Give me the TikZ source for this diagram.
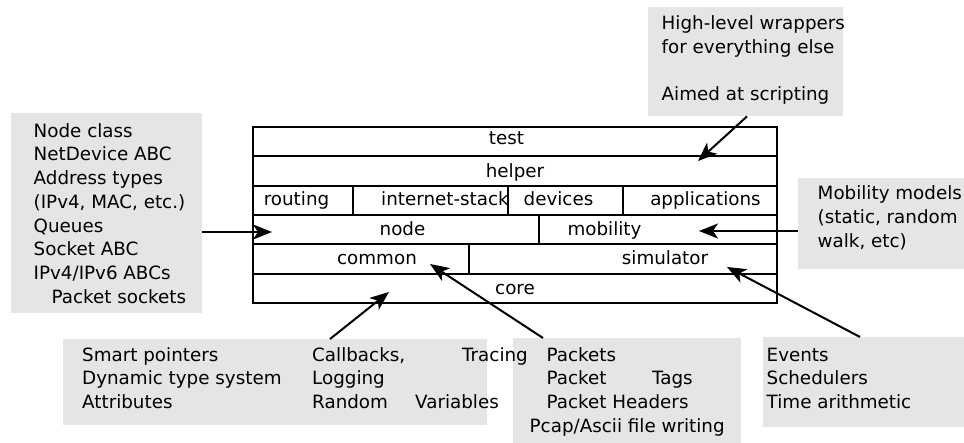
\documentclass[tikz,border=0pt]{standalone}
\usepackage{fontspec}
\setmainfont{DejaVu Sans}
\usetikzlibrary{arrows.meta}
\definecolor{notegray}{HTML}{E5E5E5}

\begin{document}
\begin{tikzpicture}[x=1pt, y=-1pt,
    font=\fontsize{18.3}{23.75}\selectfont,
    layer/.style={draw, line width=2pt, anchor=north west, inner sep=0pt, minimum height=29.33pt},
    tag/.style={anchor=base, inner sep=0pt},
    note/.style={fill=notegray, anchor=north west, inner sep=0pt},
    notetext/.style={anchor=north west, inner sep=0pt, align=left},
    arr/.style={-{Stealth[length=19pt, width=15pt, inset=5pt]}, line width=2pt}]
    \useasboundingbox (0,0) rectangle (964,443);

    % Grey notes
    \node[note, minimum width=191pt, minimum height=200pt] (nodenote) at (11,113) {};
    \node[note, minimum width=195pt, minimum height=109pt] (helpernote) at (648,7) {};
    \node[note, minimum width=166pt, minimum height=91pt] (mobilitynote) at (798,178) {};
    \node[note, minimum width=424pt, minimum height=86pt] (corenote) at (63,339) {};
    \node[note, minimum width=228pt, minimum height=105pt] (commonnote) at (513,338) {};
    \node[note, minimum width=201pt, minimum height=90pt] (simnote) at (763,337) {};

    % Note texts
    \node[notetext] (nodetext) at (33.5,120.4) {\strut Node class\\NetDevice ABC\\Address types\\(IPv4, MAC, etc.)\\Queues\\Socket ABC\\IPv4/IPv6 ABCs\\\hspace*{18pt}Packet sockets};
    \node[notetext] (helpertext) at (661.5,12.7) {\strut High-level wrappers\\for everything else\\[23.75pt]Aimed at scripting};
    \node[notetext] (mobilitytext) at (817.5,182.7) {\strut Mobility models\\(static, random\\walk, etc)};
    \node[notetext] (coretext) at (82,344.4) {\strut Smart pointers\\Dynamic type system\\Attributes};
    \node[notetext] (coretextb) at (312,344.4) {\strut\makebox[150pt][l]{Callbacks,}Tracing\\Logging\\\makebox[103pt][l]{Random}Variables};
    \node[notetext] (commontext) at (529.5,344.4) {\strut\hspace*{17pt}Packets\\\hspace*{17pt}\makebox[105.5pt][l]{Packet}Tags\\\hspace*{17pt}Packet Headers\\Pcap/Ascii file writing};
    \node[notetext] (simtext) at (766.5,344.4) {\strut Events\\Schedulers\\Time arithmetic};

    % Layer stack
    \node[layer, minimum width=524pt] (testlayer) at (252,126) {};
    \node[layer, minimum width=524pt] (helperlayer) at (252,155.33) {};
    \node[layer, minimum width=100pt] (routinglayer) at (252,184.67) {};
    \node[layer, minimum width=155pt] (internetlayer) at (352,184.67) {};
    \node[layer, minimum width=115pt] (deviceslayer) at (507,184.67) {};
    \node[layer, minimum width=154pt] (appslayer) at (622,184.67) {};
    \node[layer, minimum width=286pt] (nodelayer) at (252,214) {};
    \node[layer, minimum width=238pt] (mobilitylayer) at (538,214) {};
    \node[layer, minimum width=216pt] (commonlayer) at (252,243.33) {};
    \node[layer, minimum width=308pt] (simlayer) at (468,243.33) {};
    \node[layer, minimum width=524pt] (corelayer) at (252,272.67) {};

    % Layer names
    \node[tag] (testlbl) at (506.5,145) {test};
    \node[tag] (helperlbl) at (515,177.5) {helper};
    \node[tag] (routinglbl) at (296.5,205.7) {routing};
    \node[tag] (internetlbl) at (445,205.7) {internet-stack};
    \node[tag] (deviceslbl) at (558.5,205.7) {devices};
    \node[tag] (appslbl) at (705.5,205.7) {applications};
    \node[tag] (nodelbl) at (402.5,235.5) {node};
    \node[tag] (mobilitylbl) at (604.5,235.5) {mobility};
    \node[tag] (commonlbl) at (377,265) {common};
    \node[tag] (simlbl) at (665,265) {simulator};
    \node[tag] (corelbl) at (515,294.5) {core};

    % Arrows into the stack
    \coordinate (helpertip) at (698,161);
    \coordinate (nodetip) at (272,232);
    \coordinate (mobilitytip) at (699,231);
    \coordinate (coretip) at (389,292);
    \coordinate (commontip) at (430,264);
    \coordinate (simtip) at (727,267);
    \draw[arr] ([xshift=99pt]helpernote.south west) -- (helpertip);
    \draw[arr] (nodenote.east |- nodetip) -- (nodetip);
    \draw[arr] (mobilitynote.west |- mobilitytip) -- (mobilitytip);
    \draw[arr] ([xshift=267pt]corenote.north west) -- (coretip);
    \draw[arr] ([xshift=30pt]commonnote.north west) -- (commontip);
    \draw[arr] ([xshift=97pt]simnote.north west) -- (simtip);
\end{tikzpicture}
\end{document}
